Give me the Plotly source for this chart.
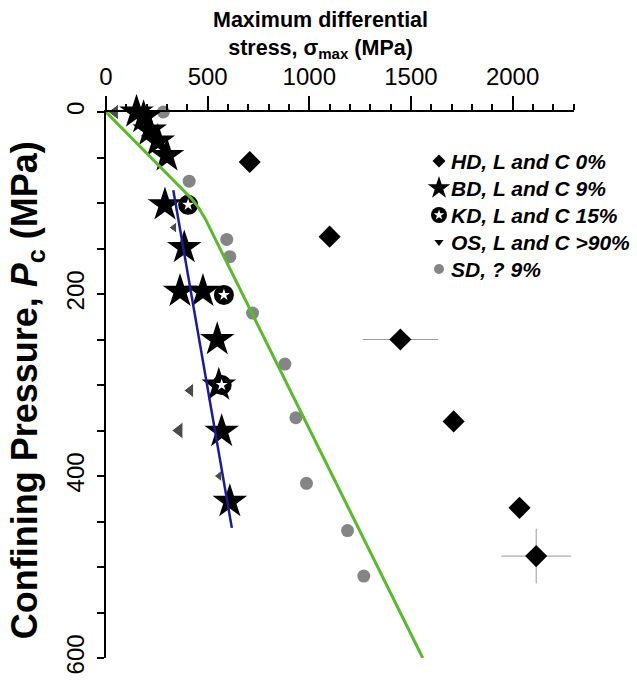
import plotly.graph_objects as go

# HD, L and C 0%  (diamonds)
hd_stress = [707, 1100, 1448, 1710, 2034, 2116]
hd_pc = [55, 137, 250, 340, 435, 488]
hd_err_stress = [0, 0, 185, 0, 0, 172]
hd_err_pc = [0, 0, 0, 0, 0, 30]

# BD, L and C 9%  (stars)
bd_stress = [150, 185, 215, 255, 300, 290, 385, 364, 477, 547, 555, 569, 609]
bd_pc = [0, 6, 20, 32, 48, 102, 149, 197, 197, 250, 300, 351, 428]

# KD, L and C 15%  (circled stars)
kd_stress = [404, 580, 569]
kd_pc = [102, 201, 300]

# OS, L and C >90%  (triangles)
os_stress = [44, 335, 415, 360, 557]
os_pc = [0, 127, 306, 350, 400]
os_size = [14, 10, 13, 15, 10]

# SD, ? 9%  (grey dots)
sd_stress = [282, 409, 594, 609, 721, 880, 934, 986, 1188, 1268]
sd_pc = [0, 76, 140, 159, 221, 277, 336, 408, 460, 510]

# fitted lines
green_stress = [0, 420, 455, 490, 525, 565, 1558]
green_pc = [0, 95, 105, 118, 134, 152, 600]
blue_stress = [331, 619]
blue_pc = [86, 457]

legend_labels = ["HD, L and C 0%", "BD, L and C 9%", "KD, L and C 15%",
                 "OS, L and C >90%", "SD, ? 9%"]

FONT = "Liberation Sans, Arial, sans-serif"
GREY = "#858585"

fig = go.Figure()

fig.add_trace(go.Scatter(
    x=hd_stress, y=hd_pc, mode="markers", cliponaxis=False,
    marker=dict(symbol="diamond", size=17, color="black"),
    error_x=dict(type="data", array=hd_err_stress, color="#9a9a9a", thickness=1, width=0),
    error_y=dict(type="data", array=hd_err_pc, color="#9a9a9a", thickness=1, width=0),
))
fig.add_trace(go.Scatter(
    x=sd_stress, y=sd_pc, mode="markers", cliponaxis=False,
    marker=dict(symbol="circle", size=13, color=GREY),
))
fig.add_trace(go.Scatter(
    x=bd_stress, y=bd_pc, mode="markers", cliponaxis=False,
    marker=dict(symbol="star", size=26, color="black"),
))
fig.add_trace(go.Scatter(
    x=kd_stress, y=kd_pc, mode="markers", cliponaxis=False,
    marker=dict(symbol="circle", size=20, color="black"),
))
fig.add_trace(go.Scatter(
    x=kd_stress, y=kd_pc, mode="markers", cliponaxis=False,
    marker=dict(symbol="star", size=9, color="white"),
))
fig.add_trace(go.Scatter(
    x=os_stress, y=os_pc, mode="markers", cliponaxis=False,
    marker=dict(symbol="triangle-left", size=os_size, color="black"),
))
fig.add_trace(go.Scatter(
    x=green_stress, y=green_pc, mode="lines", cliponaxis=False,
    line=dict(color="#5cb82c", width=3),
))
fig.add_trace(go.Scatter(
    x=blue_stress, y=blue_pc, mode="lines", cliponaxis=False,
    line=dict(color="#1c1c96", width=2.5),
))

# hand-drawn legend on an overlay axis measured in pixels of the plot area
leg_x, leg_y0, leg_dy = 439, 161, 27
leg_rows = [leg_y0 + i * leg_dy for i in range(len(legend_labels))]
leg_symbols = [
    dict(symbol="diamond", size=10, color="black"),
    dict(symbol="star", size=17, color="black"),
    dict(symbol="circle", size=16, color="black"),
    dict(symbol="triangle-down", size=8, color="black"),
    dict(symbol="circle", size=10, color=GREY),
]
for row, m in zip(leg_rows, leg_symbols):
    fig.add_trace(go.Scatter(x=[leg_x], y=[row], mode="markers", marker=m,
                             xaxis="x2", yaxis="y2", cliponaxis=False))
fig.add_trace(go.Scatter(x=[leg_x], y=[leg_rows[2]], mode="markers",
                         marker=dict(symbol="star", size=8, color="white"),
                         xaxis="x2", yaxis="y2", cliponaxis=False))
for row, lab in zip(leg_rows, legend_labels):
    fig.add_annotation(x=leg_x + 10, y=row, xref="x2", yref="y2", text=f"<b><i>{lab}</i></b>",
                       showarrow=False, xanchor="left", yanchor="middle",
                       font=dict(size=21, color="black", family=FONT))

fig.add_annotation(x=0.459, y=1.195, xref="paper", yref="paper",
                   text="<b>Maximum differential<br>stress, σ<sub>max</sub> (MPa)</b>",
                   showarrow=False, xanchor="center", yanchor="top",
                   font=dict(size=21.5, color="black", family=FONT))
fig.add_annotation(x=-0.167, y=0.49, xref="paper", yref="paper", textangle=-90,
                   text="<b>Confining Pressure, <i>P</i><sub>c</sub> (MPa)</b>",
                   showarrow=False, xanchor="center", yanchor="middle",
                   font=dict(size=36, color="black", family=FONT))

fig.update_layout(
    width=637, height=684,
    margin=dict(l=106, r=63, t=112, b=26),
    paper_bgcolor="white", plot_bgcolor="white",
    showlegend=False,
    font=dict(family=FONT, color="black"),
    xaxis=dict(
        side="top", range=[0, 2302], showgrid=False, zeroline=False, automargin=False,
        showline=True, linecolor="black", linewidth=2,
        tickvals=[0, 500, 1000, 1500, 2000], ticks="outside", ticklen=14,
        tickwidth=1.5, tickcolor="black", ticklabelstandoff=1,
        tickfont=dict(size=24, family=FONT), tickprefix="<b>", ticksuffix="</b>",
        minor=dict(dtick=100, ticks="outside", ticklen=6, tickwidth=1.5, tickcolor="black"),
    ),
    yaxis=dict(
        range=[600, 0], showgrid=False, zeroline=False, automargin=False,
        showline=True, linecolor="black", linewidth=2,
        tickvals=[0, 200, 400, 600], ticks="outside", ticklen=7,
        tickwidth=1.5, tickcolor="black", tickangle=-90, ticklabelstandoff=3,
        tickfont=dict(size=24, family=FONT), tickprefix="<b>", ticksuffix="</b>",
        minor=dict(dtick=50, ticks="outside", ticklen=7, tickwidth=1.5, tickcolor="black"),
    ),
    xaxis2=dict(overlaying="x", range=[106, 574], visible=False, anchor="y2"),
    yaxis2=dict(overlaying="y", range=[658, 112], visible=False, anchor="x2"),
)

# drop the default 8px page margin so the figure fills the window exactly
fig.write_html("out.html", config={"displayModeBar": False},
               post_script="document.body.style.margin = '0';")
